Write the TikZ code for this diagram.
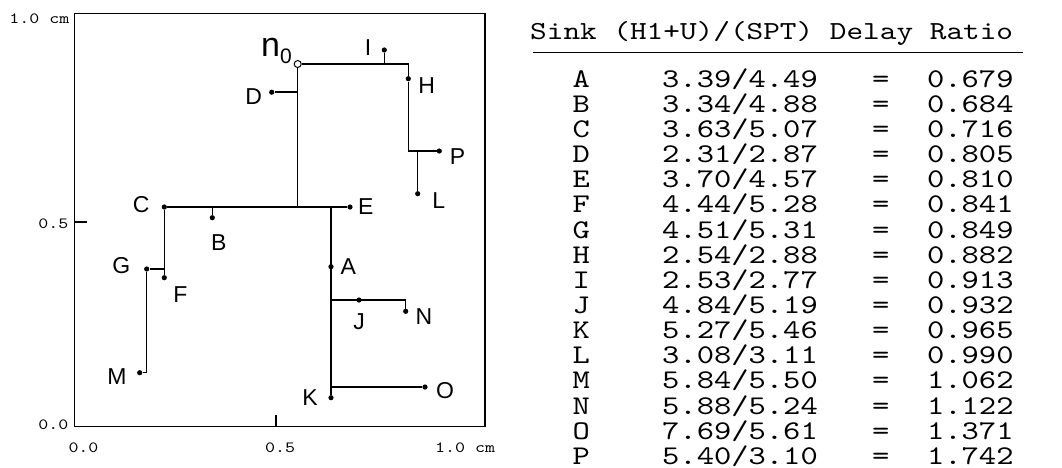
\documentclass[tikz,border=0pt]{standalone}
\usepackage{fontspec}
\setmainfont{Liberation Sans}
\newfontfamily\courlike[Extension=.otf, FakeStretch=1.22]{lmmono10-regular}
\usepackage{tikz}
\usetikzlibrary{positioning}

\tikzset{
    sink/.style={circle, fill=black, inner sep=0pt, minimum size=5.2pt},
    srcnode/.style={circle, draw=black, fill=white, inner sep=0pt, minimum size=7pt, line width=1pt},
    sinklabel/.style={inner sep=0pt, on grid, font=\fontsize{23}{23}\selectfont},
    axlab/.style={inner sep=0pt, font=\courlike\fontsize{15.6}{15.6}\selectfont},
    tabcell/.style={inner sep=0pt, anchor=base, font=\courlike\fontsize{27}{27}\selectfont},
    wire/.style={line width=1.5pt}
}

\begin{document}
\begin{tikzpicture}[x=1pt, y=-1pt]
    \useasboundingbox (0,0) rectangle (1062,467);

    % frame and axes
    \draw[line width=1.3pt] (74.7,13.2) rectangle (485,426.7);
    \draw[line width=1.3pt] (74.7,222) -- ++(12,0);
    \draw[line width=1.3pt] (276,426.7) -- ++(0,-12);
    \node[axlab, anchor=base east] (y10) at (69.5,23.3) {1.0 cm};
    \node[axlab, anchor=base east] (y05) at (68.5,228.3) {0.5};
    \node[axlab, anchor=base east] (y00) at (68.5,429) {0.0};
    \node[axlab, anchor=base west] (x00) at (68.3,452.7) {0.0};
    \node[axlab, anchor=base west] (x05) at (265,452.7) {0.5};
    \node[axlab, anchor=base west] (x10) at (435,452.7) {1.0 cm};

    % source and sinks
    \node[srcnode] (n0) at (297.7,64) {};
    \node[sink] (I) at (384.3,50) {};
    \node[sink] (H) at (408.3,78.7) {};
    \node[sink] (P) at (439.3,151) {};
    \node[sink] (L) at (417.7,193.7) {};
    \node[sink] (D) at (271.7,92.2) {};
    \node[sink] (C) at (164.3,207) {};
    \node[sink] (E) at (350,207) {};
    \node[sink] (B) at (212.3,217.7) {};
    \node[sink] (G) at (146.7,269) {};
    \node[sink] (F) at (164.3,277.7) {};
    \node[sink] (M) at (139.7,372.7) {};
    \node[sink] (A) at (331,266.7) {};
    \node[sink] (J) at (359,300) {};
    \node[sink] (N) at (405.7,311.3) {};
    \node[sink] (O) at (425,387) {};
    \node[sink] (K) at (331,397.7) {};

    \node[inner sep=0pt, anchor=base west] (n0lab) at ([shift={(-36.7,-7.3)}]n0)
        {\fontsize{34}{34}\selectfont n\raisebox{-6.7pt}{\fontsize{21}{21}\selectfont 0}};
    \node[sinklabel, above left=2.3pt and 16.3pt of I] (Ilab) {I};
    \node[sinklabel, below right=7pt and 18.4pt of H] (Hlab) {H};
    \node[sinklabel, below right=5.5pt and 18.2pt of P] (Plab) {P};
    \node[sinklabel, below right=6.8pt and 21pt of L] (Llab) {L};
    \node[sinklabel, below left=4pt and 18pt of D] (Dlab) {D};
    \node[sinklabel, above left=2.5pt and 23pt of C] (Clab) {C};
    \node[sinklabel, right=15.8pt of E] (Elab) {E};
    \node[sinklabel, below right=24.8pt and 6.4pt of B] (Blab) {B};
    \node[sinklabel, above left=3pt and 25.4pt of G] (Glab) {G};
    \node[sinklabel, below right=16.8pt and 16pt of F] (Flab) {F};
    \node[sinklabel, below left=4.3pt and 22.7pt of M] (Mlab) {M};
    \node[sinklabel, right=17.3pt of A] (Alab) {A};
    \node[sinklabel, below=22pt of J] (Jlab) {J};
    \node[sinklabel, below right=5.7pt and 18.3pt of N] (Nlab) {N};
    \node[sinklabel, below right=3.5pt and 20pt of O] (Olab) {O};
    \node[sinklabel, left=21pt of K] (Klab) {K};

    % tree wires
    \coordinate (hI) at (I |- n0);
    \coordinate (hH) at (H |- n0);
    \coordinate (hP) at (H |- P);
    \coordinate (hL) at (L |- P);
    \coordinate (hD) at (n0 |- D);
    \coordinate (hE) at (n0 |- E);
    \coordinate (hB) at (B |- C);
    \coordinate (hA) at (A |- C);
    \coordinate (hG) at (C |- G);
    \coordinate (hM) at (G |- M);
    \coordinate (hJ) at (A |- J);
    \coordinate (hN) at (N |- J);
    \coordinate (hO) at (A |- O);

    \draw[wire] (n0) -- (hH) -- (H) -- (hP) -- (P);
    \draw[wire] (hI) -- (I);
    \draw[wire] (hL) -- (L);
    \draw[wire] (n0) -- (hE);
    \draw[wire] (hD) -- (D);
    \draw[wire] (C) -- (E);
    \draw[wire] (hB) -- (B);
    \draw[wire] (C) -- (F);
    \draw[wire] (hG) -- (G) -- (hM) -- (M);
    \draw[wire] (hA) -- (K);
    \draw[wire] (hJ) -- (hN) -- (N);
    \draw[wire] (hO) -- (O);

    % delay table
    \node[inner sep=0pt, anchor=base west, font=\courlike\fontsize{26}{26}\selectfont] (head) at (530,39.3)
        {Sink (H1+U)/(SPT) Delay Ratio};
    \coordinate (ruleL) at (533,52.7);
    \coordinate (ruleR) at (1022.7,52.7);
    \draw[line width=1.5pt] (ruleL) -- (ruleR);

    \foreach \s/\a/\b/\v [count=\i from 0] in {
        A/3.39/4.49/0.679, B/3.34/4.88/0.684, C/3.63/5.07/0.716, D/2.31/2.87/0.805,
        E/3.70/4.57/0.810, F/4.44/5.28/0.841, G/4.51/5.31/0.849, H/2.54/2.88/0.882,
        I/2.53/2.77/0.913, J/4.84/5.19/0.932, K/5.27/5.46/0.965, L/3.08/3.11/0.990,
        M/5.84/5.50/1.062, N/5.88/5.24/1.122, O/7.69/5.61/1.371, P/5.40/3.10/1.742}{
        \node[tabcell] (s\s) at (581.3,{87.3+25.13*\i}) {\s};
        \node[tabcell] (r\s) at (740,{87.3+25.13*\i}) {\a/\b};
        \node[tabcell] (e\s) at (880.8,{87.3+25.13*\i}) {=};
        \node[tabcell] (v\s) at (970.3,{87.3+25.13*\i}) {\v};
    }
\end{tikzpicture}
\end{document}
